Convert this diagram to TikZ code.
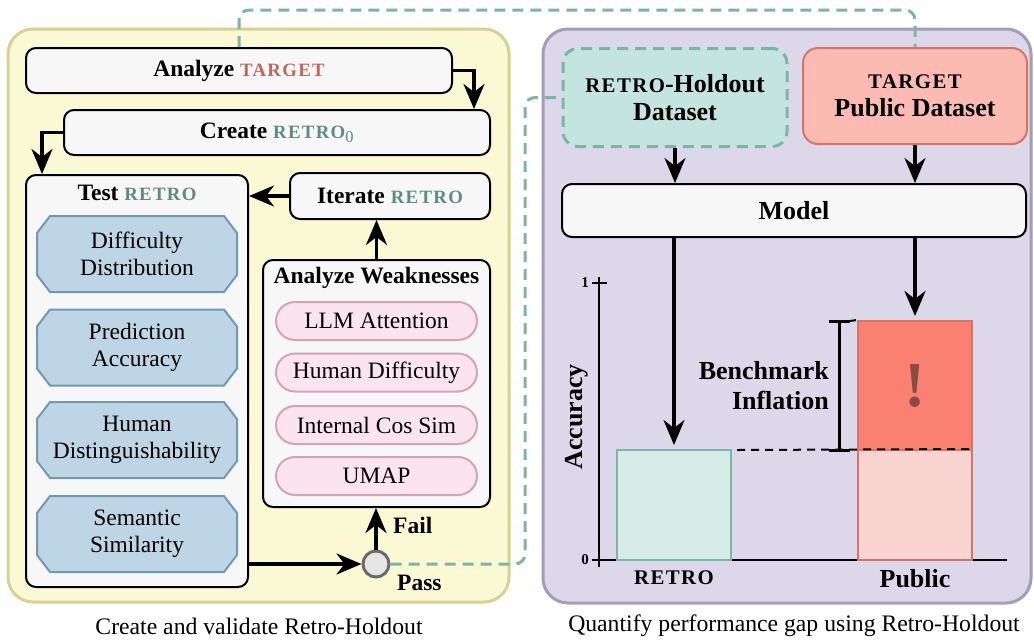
\documentclass[tikz,border=0pt]{standalone}
\usepackage{fontspec}
\setmainfont{Liberation Serif}
\usepackage{graphicx}
\usetikzlibrary{arrows.meta,shapes.misc,calc}

\definecolor{panYfill}{HTML}{FAF9D4}
\definecolor{panYline}{HTML}{D5D292}
\definecolor{panPfill}{HTML}{DCD8E9}
\definecolor{panPline}{HTML}{A19DBA}
\definecolor{boxfill}{HTML}{F7F7F7}
\definecolor{retrotxt}{HTML}{5E8C80}
\definecolor{targettxt}{HTML}{C0665C}
\definecolor{octfill}{HTML}{BDD5E5}
\definecolor{octline}{HTML}{7299B3}
\definecolor{pillfill}{HTML}{FCE4EE}
\definecolor{pillline}{HTML}{D4A3B6}
\definecolor{tealdash}{HTML}{7AB5A6}
\definecolor{holdfill}{HTML}{C4E5DF}
\definecolor{tgtfill}{HTML}{FBBAB2}
\definecolor{tgtline}{HTML}{D77468}
\definecolor{rbarfill}{HTML}{D8ECE7}
\definecolor{publofill}{HTML}{F9D4D0}
\definecolor{pubhifill}{HTML}{FA8172}
\definecolor{bangcol}{HTML}{8B4A42}
\definecolor{passfill}{HTML}{E6E6E6}
\definecolor{passline}{HTML}{6B6B6B}

% small-caps look for the dataset names
\newcommand\sctxt[1]{\scalebox{0.8}{\addfontfeatures{LetterSpace=7}#1}}
% octagonal badge (200 x 76) centred on a coordinate
\newcommand\octshape[1]{\draw[octdraw] (#1) ++(-87,-38) -- ++(174,0) -- ++(13,17)
  -- ++(0,42) -- ++(-13,17) -- ++(-174,0) -- ++(-13,-17) -- ++(0,-42) -- cycle;}

\tikzset{
  panel/.style={line width=3pt, rounded corners=25pt, inner sep=0pt},
  box/.style={draw=black, line width=2pt, fill=boxfill, rounded corners=10pt,
    inner sep=0pt, font=\fontsize{23.5}{26}\selectfont\bfseries},
  bigbox/.style={box, font=\fontsize{26}{28}\selectfont\bfseries, align=center},
  ttl/.style={inner sep=0pt, font=\fontsize{23.5}{26}\selectfont\bfseries},
  octdraw/.style={draw=octline, fill=octfill, line width=2pt},
  octtext/.style={align=center, inner sep=0pt, font=\fontsize{23.5}{27}\selectfont},
  pill/.style={rounded rectangle, draw=pillline, fill=pillfill, line width=2pt,
    minimum width=201pt, minimum height=38pt, inner sep=0pt,
    font=\fontsize{23.5}{26}\selectfont},
  bighead/.tip={Stealth[length=25pt, width=21pt, inset=8pt]},
  arr/.style={line width=3.3pt, arrows={-bighead}},
  tdash/.style={draw=tealdash, line width=3pt, dash pattern=on 11pt off 7pt,
    rounded corners=10pt},
  captext/.style={inner sep=0pt, font=\fontsize{23.7}{26}\selectfont},
}

\begin{document}
\begin{tikzpicture}[x=1pt, y=-1pt]
\useasboundingbox (0,0) rectangle (1034,641);

% ---- panels ----
\node[panel, draw=panYline, fill=panYfill, minimum width=501pt, minimum height=573pt] (panL) at (258.5,315.5) {};
\node[panel, draw=panPline, fill=panPfill, minimum width=488pt, minimum height=574pt] (panR) at (787,316) {};

% ---- left panel: creating and validating ----
\node[box, minimum width=426pt, minimum height=45pt] (anT) at (239,70.5)
  {Analyze \textcolor{targettxt}{\sctxt{TARGET}}};
\node[box, minimum width=426pt, minimum height=45pt] (cr0) at (277,132.5)
  {Create \textcolor{retrotxt}{\sctxt{RETRO}\textsubscript{\normalfont 0}}};

\node[box, minimum width=222pt, minimum height=412pt] (test) at (137,381) {};
\node[ttl] (testT) at (137,193) {Test \textcolor{retrotxt}{\sctxt{RETRO}}};
\coordinate (c1) at (137,254);
\coordinate (c2) at (137,347.5);
\coordinate (c3) at (137,440);
\coordinate (c4) at (137,534);
\octshape{c1} \octshape{c2} \octshape{c3} \octshape{c4}
\node[octtext] (o1) at (c1) {Difficulty\\Distribution};
\node[octtext] (o2) at (c2) {Prediction\\Accuracy};
\node[octtext] (o3) at (c3) {Human\\Distinguishability};
\node[octtext] (o4) at (c4) {Semantic\\Similarity};

\node[box, minimum width=200pt, minimum height=46pt] (iter) at (390,196)
  {Iterate \textcolor{retrotxt}{\sctxt{RETRO}}};

\node[box, minimum width=227pt, minimum height=247pt] (weak) at (376.5,383.5) {};
\node[ttl] (weakT) at (376.5,278) {Analyze Weaknesses};
\node[pill] (p1) at (376.5,321)   {LLM Attention};
\node[pill] (p2) at (376.5,372.5) {Human Difficulty};
\node[pill] (p3) at (376.5,425)   {Internal Cos Sim};
\node[pill] (p4) at (376.5,476)   {UMAP};

\node[circle, draw=passline, fill=passfill, line width=3pt, minimum size=26pt, inner sep=0pt] (pass) at (376,564) {};
\node[ttl, anchor=west] (fail) at (393,525) {Fail};
\node[ttl, anchor=west] (passL) at (397,583) {Pass};

% ---- right panel: measuring the gap ----
\node[bigbox, fill=holdfill, draw=tealdash, line width=3pt, dash pattern=on 11pt off 7pt,
  rounded corners=15pt, minimum width=224pt, minimum height=98pt] (hold) at (675,97.5)
  {\sctxt{RETRO}-Holdout\\Dataset};
\node[bigbox, fill=tgtfill, draw=tgtline, rounded corners=15pt,
  minimum width=224pt, minimum height=96pt] (tgt) at (915,96)
  {\sctxt{TARGET}\\Public Dataset};
\node[bigbox, minimum width=464pt, minimum height=53pt] (model) at (794,210.5) {Model};

% chart axes
\draw[line width=2pt] (599,277) -- (599,567);
\draw[line width=2pt] (592,560) -- (1007,560);
\draw[line width=2pt] (592,283) -- (607,283);
\node[inner sep=0pt, anchor=east, font=\fontsize{15}{16}\selectfont\bfseries] (t1) at (589,283) {1};
\node[inner sep=0pt, anchor=east, font=\fontsize{15}{16}\selectfont\bfseries] (t0) at (589,560) {0};
\node[inner sep=0pt, rotate=90, font=\fontsize{26}{28}\selectfont\bfseries] (acc) at (577,417) {Accuracy};

% bars
\node[draw=tealdash, fill=rbarfill, line width=2pt, minimum width=114pt, minimum height=110pt, inner sep=0pt] (rbar) at (674,505) {};
\node[draw=tgtline, fill=publofill, line width=2pt, minimum width=114pt, minimum height=110pt, inner sep=0pt] (publo) at (915,505) {};
\node[draw=tgtline, fill=pubhifill, line width=2pt, minimum width=114pt, minimum height=129pt, inner sep=0pt,
  text=bangcol, font=\fontsize{64}{64}\selectfont\bfseries] (pubhi) at (915,385.5) {!};

\draw[line width=2pt, dash pattern=on 8pt off 6pt] (737,450) -- (publo.north east);
\draw[line width=2pt, dash pattern=on 6pt off 6pt] (850,321) -- (pubhi.north west);
\draw[line width=3pt] (839,321) -- (839,450);
\draw[line width=3pt] (829,321) -- (850,321);
\draw[line width=3pt] (829,450) -- (850,450);
\node[inner sep=0pt, anchor=east, align=right, font=\fontsize{26}{30}\selectfont\bfseries] (infl) at (829,386)
  {Benchmark\\Inflation};

\node[inner sep=0pt, font=\fontsize{26}{28}\selectfont\bfseries] (xr) at (674,578) {\sctxt{RETRO}};
\node[inner sep=0pt, font=\fontsize{26}{28}\selectfont\bfseries] (xp) at (915,579) {Public};

% captions
\node[captext] (capL) at (259,626) {Create and validate Retro-Holdout};
\node[captext] (capR) at (794,626) {Quantify performance gap using Retro-Holdout};

% ---- connectors ----
\coordinate (dx) at (525,0);
\coordinate (dtop) at (0,10);
\draw[tdash] (pass.east) -- (pass.east -| dx) -- (dx |- hold.west) -- (hold.west);
\draw[tdash] (anT.north) -- (anT.north |- dtop) -- (tgt.north |- dtop) -- (tgt.north);

\draw[arr] (anT.east) -| ([xshift=-17pt]cr0.north east);
\draw[arr] (cr0.west) -| ([xshift=17pt]test.north west);
\draw[arr] (iter.west) -- (iter.west -| test.east);
\draw[arr] (weak.north) -- (weak.north |- iter.south);
\draw[arr] (pass.north) -- (pass.north |- weak.south);
\draw[arr] (pass.west -| test.east) -- (pass.west);

\draw[arr] (hold.south) -- (hold.south |- model.north);
\draw[arr] (tgt.south) -- (tgt.south |- model.north);
\draw[arr, shorten >=4pt] (model.south -| rbar.north) -- (rbar.north);
\draw[arr, shorten >=4pt] (model.south -| pubhi.north) -- (pubhi.north);
\end{tikzpicture}
\end{document}
